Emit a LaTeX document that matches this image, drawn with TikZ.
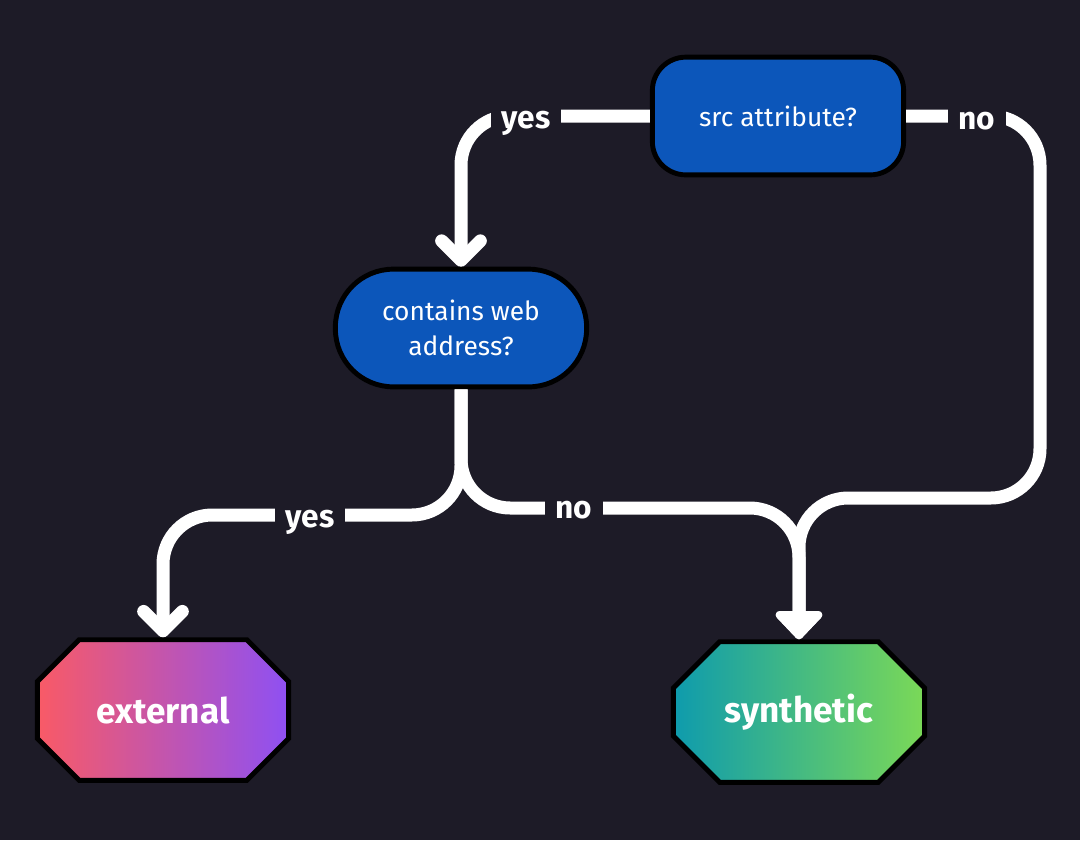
\documentclass[tikz,border=0pt]{standalone}
\usepackage{fontspec}
\setmainfont{Fira Sans}
\usetikzlibrary{shapes.misc,arrows.meta}
\definecolor{bgdark}{RGB}{29,27,39}
\definecolor{askblue}{RGB}{12,86,186}
\definecolor{extleft}{RGB}{249,90,102}
\definecolor{extright}{RGB}{142,80,243}
\definecolor{synleft}{RGB}{14,155,173}
\definecolor{synright}{RGB}{123,217,87}
\tikzset{
	question/.style = {draw=black, line width=2.8pt, fill=askblue, text=white,
		rounded corners=19pt, align=center,
		font=\fontsize{15}{20}\selectfont,
		minimum width=143pt, minimum height=67pt},
	result/.style   = {draw=black, line width=2.8pt, chamfered rectangle,
		chamfered rectangle sep=16pt, inner sep=0pt, text=white,
		font=\bfseries\fontsize{20}{24}\selectfont,
		minimum width=143pt, minimum height=80pt},
	flow/.style     = {draw=white, line width=7.4pt, rounded corners=28pt},
	answer/.style   = {fill=bgdark, text=white, anchor=base,
		inner xsep=6pt, inner ysep=3pt,
		font=\bfseries\fontsize{18}{20}\selectfont},
}
\begin{document}
\begin{tikzpicture}[x=0.02cm, y=-0.02cm,
                    >/.tip={Straight Barb[length=11pt, width=22pt, round]}
                    ]
    \fill[bgdark] (0,0) rectangle (1080,840);

    %-- Blocks creation --%
    \draw
      node(srcAttr) at (778,116) [question] {src attribute?}
      node(webAddr) at (461,328) [question, rounded corners=33pt] {contains web\\address?}
      node(external) at (163,710) [result, left color=extleft, right color=extright] {external}
      node(synthetic) at (799,712) [result, left color=synleft, right color=synright] {synthetic}
    ;

    %-- Block linking --%
    % SRC ATTRIBUTE %
    \draw[flow, ->] (srcAttr.west) -- (461,116) -- (webAddr.north);
    \draw[flow, -{Triangle[length=17pt, width=31pt, round]}]
      (srcAttr.east) -- (1040,116) -- (1040,498) -- (799,498) -- (synthetic.north);

    % WEB ADDRESS %
    \draw[flow, ->] (webAddr.south) -- (461,515) -- (163,515) -- (external.north);
    \draw[flow, -{Triangle[length=17pt, width=31pt, round]}]
      (webAddr.south) -- (461,508) -- (799,508) -- (synthetic.north);

    %-- Answers --%
    \draw
      node(yesTop) at (526,128) [answer] {yes}
      node(noTop)  at (977,129) [answer] {no}
      node(yesLow) at (310,527) [answer] {yes}
      node(noLow)  at (574,518) [answer] {no}
    ;
\end{tikzpicture}
\end{document}
